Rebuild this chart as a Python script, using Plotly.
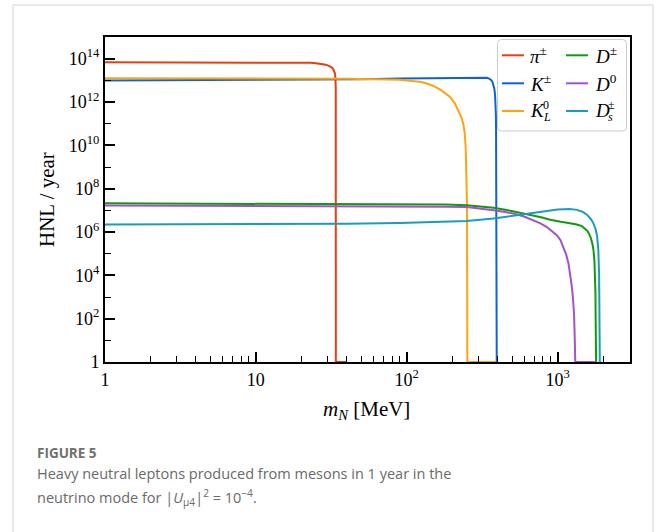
import plotly.graph_objects as go

# HNL yield per year vs. HNL mass for each parent meson
pi_mass = [1, 5, 10, 20, 23, 25, 27, 28.5, 30, 31, 31.8, 32.5, 33.0, 33.4, 33.6, 33.75,
           33.85, 33.9, 40]
pi_hnl = [6.8e13, 6.8e13, 6.75e13, 6.6e13, 6.4e13, 6.15e13, 5.8e13, 5.4e13, 4.9e13,
          4.5e13, 4.0e13, 3.4e13, 2.8e13, 2.1e13, 1.6e13, 1.0e13, 5e12, 1, 1]

k_mass = [1, 10, 50, 90, 194, 250, 290, 320, 340, 352, 362, 370, 376, 381, 385, 388,
          390, 391, 392, 395]
k_hnl = [9.8e12, 1.02e13, 1.12e13, 1.2e13, 1.26e13, 1.32e13, 1.35e13, 1.35e13, 1.3e13,
         1.2e13, 1.05e13, 8.5e12, 6.3e12, 4.0e12, 2.2e12, 9e11, 2.5e11, 5e10, 1, 1]

kl_mass = [1, 10, 40, 90, 110, 125, 136, 150, 167, 180, 194, 208, 220, 230, 237, 242,
           246, 249, 251, 252.3, 392]
kl_hnl = [1.26e13, 1.26e13, 1.17e13, 1.07e13, 9.6e12, 8.3e12, 7.1e12, 5.5e12, 3.7e12,
          2.6e12, 1.7e12, 8.9e11, 4.2e11, 2e11, 1e11, 4e10, 8e9, 6.3e8, 1.6e7, 1, 1]

d_mass = [1, 20, 100, 180, 250, 320, 376, 450, 537, 610, 692, 790, 893, 980, 1050, 1153,
          1250, 1343, 1450, 1524, 1580, 1620, 1660, 1700, 1731, 1755, 1772, 1782, 1788,
          1792, 1800]
d_hnl = [2.1e7, 2.04e7, 1.95e7, 1.85e7, 1.7e7, 1.52e7, 1.32e7, 1.07e7, 8.3e6, 7.0e6,
         5.9e6, 4.7e6, 3.7e6, 3.2e6, 3.0e6, 2.7e6, 2.45e6, 2.2e6, 1.86e6, 1.45e6, 1.1e6,
         8.0e5, 5.4e5, 2.9e5, 1.4e5, 4.5e4, 1.0e4, 1.5e3, 100, 1, 1]

d0_mass = [1, 20, 100, 180, 250, 320, 376, 440, 509, 600, 692, 770, 849, 920, 989, 1045,
           1096, 1140, 1181, 1215, 1244, 1268, 1288, 1300, 1310, 1820]
d0_hnl = [1.66e7, 1.62e7, 1.55e7, 1.48e7, 1.41e7, 1.2e7, 1e7, 8.5e6, 7.1e6, 5.2e6,
          3.5e6, 2.5e6, 1.7e6, 1.1e6, 7.1e5, 4.2e5, 2.0e5, 9.0e4, 3.5e4, 1.1e4, 2.9e3,
          700, 120, 10, 1, 1]

ds_mass = [1, 10, 40, 90, 180, 250, 376, 537, 692, 893, 1000, 1096, 1200, 1343, 1460,
           1566, 1660, 1731, 1790, 1830, 1862, 1885, 1898, 1905, 1930]
ds_hnl = [2.24e6, 2.3e6, 2.4e6, 2.6e6, 2.9e6, 3.2e6, 4.2e6, 5.9e6, 7.8e6, 1e7, 1.08e7,
          1.12e7, 1.14e7, 1.05e7, 8.6e6, 6.3e6, 4.0e6, 2.45e6, 1.3e6, 6.0e5, 1.5e5,
          1.0e4, 100, 1, 1]

series = [
    ("π±", pi_mass, pi_hnl, "#ea3d12"),
    ("K±", k_mass, k_hnl, "#0d62d8"),
    ("K0L", kl_mass, kl_hnl, "#ffa30f"),
    ("D±", d_mass, d_hnl, "#109a10"),
    ("D0", d0_mass, d0_hnl, "#a552c6"),
    ("Ds±", ds_mass, ds_hnl, "#1a9dbb"),
]

x_major = [1, 10, 100, 1000]
x_major_text = ["1", "10", "10<sup>2</sup>", "10<sup>3</sup>"]
x_minor = [m * 10 ** e for e in range(4) for m in range(2, 10) if m * 10 ** e < 3000]
y_major = [10 ** e for e in range(0, 15, 2)]
y_major_text = ["1"] + ["10<sup>%d</sup>" % e for e in range(2, 15, 2)]
y_minor = [10 ** e for e in range(1, 15, 2)]

W, H = 656, 532
L, R, T, B = 105, 630, 37, 362  # plot area in pixels


def px(x):
    return (x - L) / (R - L)


def py(y):
    return (B - y) / (B - T)


SERIF = "Liberation Serif"
fig = go.Figure()
for name, m, n, c in series:
    fig.add_trace(go.Scatter(x=m, y=n, mode="lines", name=name, showlegend=False,
                             line=dict(color=c, width=2)))

axis_common = dict(
    type="log", showgrid=False, zeroline=False, showline=True, linecolor="black",
    linewidth=2, mirror=True, ticks="inside", tickcolor="black", tickwidth=1.5,
    ticklen=10, tickfont=dict(family=SERIF, size=18, color="black"),
)
fig.update_xaxes(range=[0, 3.48], tickvals=x_major, ticktext=x_major_text,
                 minor=dict(tickvals=x_minor, ticks="inside", ticklen=6,
                            tickcolor="black", tickwidth=1.2),
                 **axis_common)
fig.update_yaxes(range=[0, 15], tickvals=y_major, ticktext=y_major_text,
                 minor=dict(tickvals=y_minor, ticks="inside", ticklen=6,
                            tickcolor="black", tickwidth=1.2),
                 **axis_common)

shapes = []
annotations = []

# card border around the figure
gray = "#d4d4d4"
shapes.append(dict(type="line", xref="paper", yref="paper", x0=px(13), x1=px(13),
                   y0=py(5), y1=py(540), line=dict(color=gray, width=1)))
shapes.append(dict(type="line", xref="paper", yref="paper", x0=px(13), x1=px(653),
                   y0=py(5), y1=py(5), line=dict(color=gray, width=1)))
shapes.append(dict(type="line", xref="paper", yref="paper", x0=px(653), x1=px(653),
                   y0=py(5), y1=py(540), line=dict(color=gray, width=1)))

# legend frame (rounded)
lx0, lx1, ly0, ly1, r = 497.5, 626.5, 39.5, 131, 4
path = (f"M {px(lx0 + r)},{py(ly0)} L {px(lx1 - r)},{py(ly0)} "
        f"Q {px(lx1)},{py(ly0)} {px(lx1)},{py(ly0 + r)} L {px(lx1)},{py(ly1 - r)} "
        f"Q {px(lx1)},{py(ly1)} {px(lx1 - r)},{py(ly1)} L {px(lx0 + r)},{py(ly1)} "
        f"Q {px(lx0)},{py(ly1)} {px(lx0)},{py(ly1 - r)} L {px(lx0)},{py(ly0 + r)} "
        f"Q {px(lx0)},{py(ly0)} {px(lx0 + r)},{py(ly0)} Z")
shapes.append(dict(type="path", xref="paper", yref="paper", path=path,
                   fillcolor="rgba(255,255,255,0.85)", line=dict(color="#cccccc", width=1),
                   layer="above"))

rows = [55.3, 83.3, 111]
cols = [(502, 524, 528), (566, 588, 593)]
labels = [
    ("<i>π</i><sup>±</sup>", None, None),
    ("<i>K</i><sup>±</sup>", None, None),
    ("<i>K</i>", "0", "<i>L</i>"),
    ("<i>D</i><sup>±</sup>", None, None),
    ("<i>D</i><sup>0</sup>", None, None),
    ("<i>D</i>", "±", "<i>s</i>"),
]
for i, (name, m, n, c) in enumerate(series):
    col = cols[i // 3]
    yrow = rows[i % 3]
    shapes.append(dict(type="line", xref="paper", yref="paper", x0=px(col[0]), x1=px(col[1]),
                       y0=py(yrow), y1=py(yrow), line=dict(color=c, width=2), layer="above"))
    main, sup, sub = labels[i]
    annotations.append(dict(xref="paper", yref="paper", x=px(col[2]), y=py(yrow),
                            text=main, showarrow=False, xanchor="left", yanchor="middle",
                            font=dict(family=SERIF, size=19, color="black")))
    if sup is not None:
        xs = col[2] + 14
        annotations.append(dict(xref="paper", yref="paper", x=px(xs), y=py(yrow - 6),
                                text=sup, showarrow=False, xanchor="left", yanchor="middle",
                                borderpad=0, font=dict(family=SERIF, size=12, color="black")))
        annotations.append(dict(xref="paper", yref="paper", x=px(xs), y=py(yrow + 6),
                                text=sub, showarrow=False, xanchor="left", yanchor="middle",
                                borderpad=0, font=dict(family=SERIF, size=12, color="black")))

# axis titles
annotations.append(dict(xref="paper", yref="paper", x=px(47), y=py(200), text="HNL / year",
                        textangle=-90, showarrow=False, xanchor="center", yanchor="middle",
                        font=dict(family=SERIF, size=21, color="black")))
annotations.append(dict(xref="paper", yref="paper", x=px(366), y=py(410),
                        text="<i>m</i><sub><i>N</i></sub> [MeV]", showarrow=False,
                        xanchor="center", yanchor="middle",
                        font=dict(family=SERIF, size=21, color="black")))

# caption
SANS = "Open Sans"
annotations.append(dict(xref="paper", yref="paper", x=px(35), y=py(453), text="<b>FIGURE 5</b>",
                        showarrow=False, xanchor="left", yanchor="middle",
                        font=dict(family=SANS, size=13.5, color="#707070")))
annotations.append(dict(xref="paper", yref="paper", x=px(35), y=py(473),
                        text="Heavy neutral leptons produced from mesons in 1 year in the",
                        showarrow=False, xanchor="left", yanchor="middle",
                        font=dict(family=SANS, size=14.5, color="#6a6a6a")))
annotations.append(dict(xref="paper", yref="paper", x=px(35), y=py(497),
                        text="neutrino mode for |<i>U</i><sub>μ4</sub>|<sup>2</sup> = 10<sup>−4</sup>.",
                        showarrow=False, xanchor="left", yanchor="middle",
                        font=dict(family=SANS, size=14.5, color="#6a6a6a")))

fig.update_layout(
    width=W, height=H, margin=dict(l=L, r=W - R, t=T, b=H - B),
    paper_bgcolor="white", plot_bgcolor="white",
    shapes=shapes, annotations=annotations, showlegend=False,
)

fig.write_html("out.html")
